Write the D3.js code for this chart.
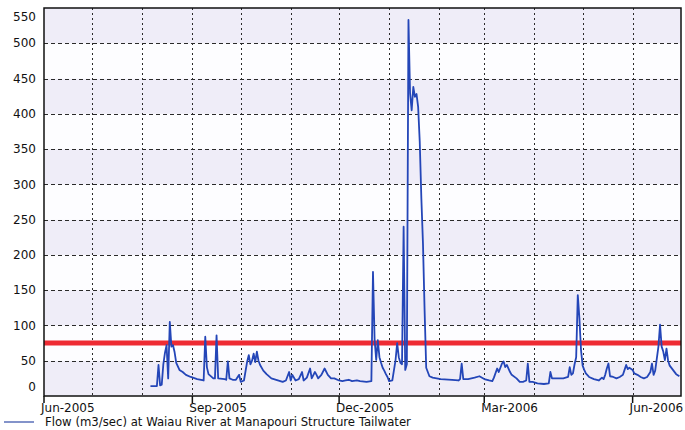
<!DOCTYPE html>
<html>
<head>
<meta charset="utf-8">
<script src="https://cdn.jsdelivr.net/npm/d3@7"></script>
<style>
  body { margin: 0; background: #fff; }
  text { font-family: "DejaVu Sans", Verdana, sans-serif; fill: #111; }
</style>
</head>
<body>
<svg id="chart" width="685" height="430"></svg>
<script>
// daily flow: [date, m3/sec]
const flowSeries = [
  ["2005-08-06", 14], ["2005-08-10", 14], ["2005-08-11", 44], ["2005-08-12", 15],
  ["2005-08-13", 16], ["2005-08-14", 45], ["2005-08-15", 61], ["2005-08-16", 72],
  ["2005-08-17", 25], ["2005-08-18", 105], ["2005-08-19", 70], ["2005-08-20", 72],
  ["2005-08-21", 62], ["2005-08-22", 47], ["2005-08-24", 37], ["2005-08-26", 34],
  ["2005-08-28", 30], ["2005-08-31", 27], ["2005-09-04", 24], ["2005-09-08", 22],
  ["2005-09-09", 84], ["2005-09-10", 41], ["2005-09-11", 31], ["2005-09-14", 25],
  ["2005-09-15", 25], ["2005-09-16", 86], ["2005-09-17", 25], ["2005-09-21", 24],
  ["2005-09-22", 23], ["2005-09-23", 49], ["2005-09-24", 25], ["2005-09-26", 23],
  ["2005-09-28", 23], ["2005-09-30", 30], ["2005-10-01", 20], ["2005-10-03", 22],
  ["2005-10-05", 49], ["2005-10-06", 58], ["2005-10-07", 45], ["2005-10-08", 50],
  ["2005-10-09", 60], ["2005-10-10", 48], ["2005-10-11", 63], ["2005-10-12", 50],
  ["2005-10-13", 44], ["2005-10-15", 36], ["2005-10-17", 31], ["2005-10-20", 25],
  ["2005-10-23", 23], ["2005-10-27", 20], ["2005-10-29", 22], ["2005-10-31", 34],
  ["2005-11-01", 22], ["2005-11-02", 30], ["2005-11-04", 22], ["2005-11-06", 24],
  ["2005-11-08", 34], ["2005-11-09", 22], ["2005-11-11", 26], ["2005-11-13", 39],
  ["2005-11-14", 25], ["2005-11-16", 34], ["2005-11-17", 30], ["2005-11-18", 25],
  ["2005-11-20", 30], ["2005-11-22", 39], ["2005-11-24", 30], ["2005-11-26", 25],
  ["2005-11-28", 25], ["2005-12-01", 22], ["2005-12-03", 21], ["2005-12-05", 22],
  ["2005-12-07", 23], ["2005-12-09", 21], ["2005-12-12", 22], ["2005-12-14", 21],
  ["2005-12-18", 20], ["2005-12-21", 21], ["2005-12-22", 176], ["2005-12-23", 80],
  ["2005-12-24", 51], ["2005-12-25", 79], ["2005-12-26", 55], ["2005-12-27", 47],
  ["2005-12-28", 40], ["2005-12-29", 36], ["2005-12-30", 31], ["2005-12-31", 27],
  ["2006-01-01", 21], ["2006-01-03", 22], ["2006-01-05", 51], ["2006-01-06", 75],
  ["2006-01-07", 55], ["2006-01-08", 47], ["2006-01-09", 45], ["2006-01-10", 240],
  ["2006-01-11", 37], ["2006-01-12", 45], ["2006-01-13", 533], ["2006-01-14", 429],
  ["2006-01-15", 405], ["2006-01-16", 438], ["2006-01-17", 424], ["2006-01-18", 428],
  ["2006-01-19", 410], ["2006-01-20", 360], ["2006-01-21", 280], ["2006-01-22", 216],
  ["2006-01-23", 122], ["2006-01-24", 40], ["2006-01-26", 28], ["2006-01-28", 26],
  ["2006-02-02", 24], ["2006-02-09", 23], ["2006-02-13", 22], ["2006-02-14", 24],
  ["2006-02-15", 46], ["2006-02-16", 24], ["2006-02-19", 24], ["2006-02-23", 26],
  ["2006-02-26", 28], ["2006-03-01", 24], ["2006-03-04", 22], ["2006-03-06", 21],
  ["2006-03-07", 26], ["2006-03-09", 39], ["2006-03-10", 34], ["2006-03-12", 46],
  ["2006-03-13", 49], ["2006-03-14", 41], ["2006-03-15", 44], ["2006-03-17", 34],
  ["2006-03-18", 30], ["2006-03-21", 25], ["2006-03-23", 20], ["2006-03-25", 20],
  ["2006-03-27", 22], ["2006-03-28", 46], ["2006-03-29", 20], ["2006-03-31", 20],
  ["2006-04-03", 18], ["2006-04-07", 17], ["2006-04-10", 18], ["2006-04-11", 34],
  ["2006-04-12", 25], ["2006-04-14", 25], ["2006-04-16", 25], ["2006-04-19", 25],
  ["2006-04-22", 27], ["2006-04-23", 41], ["2006-04-24", 30], ["2006-04-25", 32],
  ["2006-04-26", 45], ["2006-04-27", 55], ["2006-04-28", 143], ["2006-04-29", 110],
  ["2006-04-30", 65], ["2006-05-01", 43], ["2006-05-02", 37], ["2006-05-03", 32],
  ["2006-05-05", 27], ["2006-05-08", 24], ["2006-05-11", 22], ["2006-05-13", 26],
  ["2006-05-14", 24], ["2006-05-15", 30], ["2006-05-16", 39], ["2006-05-17", 46],
  ["2006-05-18", 28], ["2006-05-20", 27], ["2006-05-22", 25], ["2006-05-24", 27],
  ["2006-05-26", 30], ["2006-05-27", 37], ["2006-05-28", 44], ["2006-05-29", 38],
  ["2006-05-30", 40], ["2006-06-01", 37], ["2006-06-02", 32], ["2006-06-04", 30],
  ["2006-06-06", 27], ["2006-06-08", 25], ["2006-06-10", 27], ["2006-06-12", 34],
  ["2006-06-13", 46], ["2006-06-14", 30], ["2006-06-15", 36], ["2006-06-17", 70],
  ["2006-06-18", 101], ["2006-06-19", 70], ["2006-06-20", 63], ["2006-06-21", 51],
  ["2006-06-22", 67], ["2006-06-23", 50], ["2006-06-24", 43], ["2006-06-26", 37],
  ["2006-06-28", 31], ["2006-06-30", 28]
];

const threshold = 75;
const yTicks = [0, 50, 100, 150, 200, 250, 300, 350, 400, 450, 500, 550];
const xTickDates = ["2005-06-01", "2005-09-01", "2005-12-01", "2006-03-01", "2006-06-01"];
const xTickLabels = ["Jun-2005", "Sep-2005", "Dec-2005", "Mar-2006", "Jun-2006"];
const xDomain = ["2005-06-01", "2006-07-01"];
const legendLabel = "Flow (m3/sec) at Waiau River at Manapouri Structure Tailwater";

const parse = d3.utcParse("%Y-%m-%d");
const plot = { left: 44, right: 681, top: 8, bottom: 396 };

const x = d3.scaleUtc().domain(xDomain.map(parse)).range([plot.left, plot.right]);
const y = d3.scaleLinear().domain([0, 550]).range([plot.bottom, plot.top]);

const svg = d3.select("#chart");

// alternating background bands
svg.append("g").selectAll("rect")
  .data(d3.pairs(yTicks))
  .join("rect")
  .attr("x", plot.left)
  .attr("width", plot.right - plot.left)
  .attr("y", d => y(d[1]))
  .attr("height", d => y(d[0]) - y(d[1]))
  .attr("fill", (d, i) => i % 2 === 0 ? "#efedf8" : "#fdfdff");

// grid
const grid = svg.append("g").attr("stroke", "#2a2a2a").attr("stroke-width", 1);
grid.selectAll(".hg")
  .data(yTicks.slice(1, -1))
  .join("line")
  .attr("x1", plot.left).attr("x2", plot.right)
  .attr("y1", d => Math.round(y(d)) + 0.5).attr("y2", d => Math.round(y(d)) + 0.5)
  .attr("stroke-dasharray", "4,3");
grid.selectAll(".vg")
  .data(d3.utcMonth.range(d3.utcMonth.offset(x.domain()[0], 1), x.domain()[1]))
  .join("line")
  .attr("x1", d => Math.round(x(d)) + 0.5).attr("x2", d => Math.round(x(d)) + 0.5)
  .attr("y1", plot.top).attr("y2", plot.bottom)
  .attr("stroke-dasharray", "2,3");

// threshold line
svg.append("line")
  .attr("x1", plot.left).attr("x2", plot.right)
  .attr("y1", y(threshold)).attr("y2", y(threshold))
  .attr("stroke", "#ee2b33")
  .attr("stroke-width", 5);

// flow line
const line = d3.line()
  .x(d => x(parse(d[0])))
  .y(d => y(d[1]));

svg.append("path")
  .datum(flowSeries)
  .attr("d", line)
  .attr("fill", "none")
  .attr("stroke", "#2446b8")
  .attr("stroke-width", 1.8)
  .attr("stroke-linejoin", "round");

// frame
svg.append("rect")
  .attr("x", plot.left).attr("y", plot.top)
  .attr("width", plot.right - plot.left).attr("height", plot.bottom - plot.top)
  .attr("fill", "none")
  .attr("stroke", "#111")
  .attr("stroke-width", 1.5);

// y labels (end labels kept inside the frame)
svg.append("g").selectAll("text")
  .data(yTicks)
  .join("text")
  .attr("x", 36)
  .attr("y", d => Math.min(Math.max(y(d), plot.top + 9), plot.bottom - 9))
  .attr("dy", "0.35em")
  .attr("text-anchor", "end")
  .attr("font-size", 12)
  .text(d => d);

// x ticks + labels
const xt = svg.append("g");
xt.selectAll("line")
  .data(xTickDates)
  .join("line")
  .attr("x1", d => x(parse(d))).attr("x2", d => x(parse(d)))
  .attr("y1", plot.bottom).attr("y2", plot.bottom + 7)
  .attr("stroke", "#111").attr("stroke-width", 1.5);
xt.selectAll("text")
  .data(xTickDates)
  .join("text")
  .attr("x", d => x(parse(d)) - 3)
  .attr("y", 412)
  .attr("font-size", 12)
  .text((d, i) => xTickLabels[i]);

// legend
svg.append("line")
  .attr("x1", 4).attr("x2", 34)
  .attr("y1", 422).attr("y2", 422)
  .attr("stroke", "#5a6fb8").attr("stroke-width", 1.5);
svg.append("text")
  .attr("x", 45).attr("y", 426)
  .attr("font-size", 11.7)
  .text(legendLabel);
</script>
</body>
</html>
